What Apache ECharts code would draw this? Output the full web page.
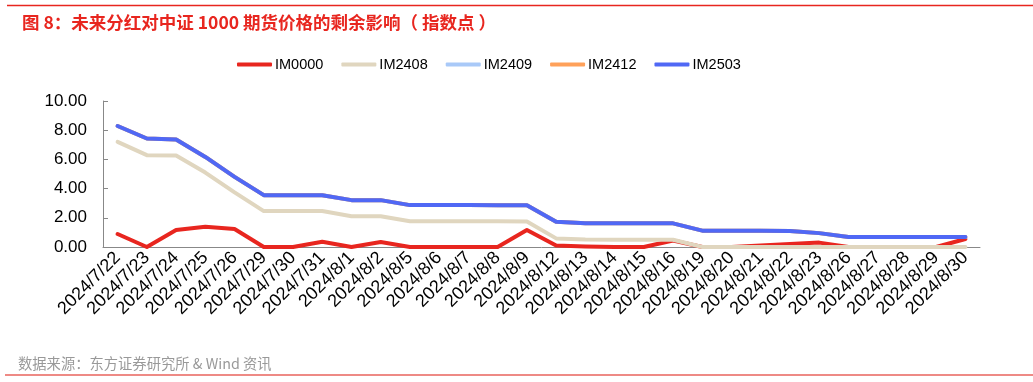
<!DOCTYPE html>
<html><head><meta charset="utf-8">
<script src="https://cdn.jsdelivr.net/npm/echarts@6/dist/echarts.min.js"></script>
<style>html,body{margin:0;padding:0;background:#fff}#c{width:1033px;height:382px}</style>
</head><body><div id="c"></div>
<script>
const categories = ['2024/7/22','2024/7/23','2024/7/24','2024/7/25','2024/7/26','2024/7/29','2024/7/30','2024/7/31','2024/8/1','2024/8/2','2024/8/5','2024/8/6','2024/8/7','2024/8/8','2024/8/9','2024/8/12','2024/8/13','2024/8/14','2024/8/15','2024/8/16','2024/8/19','2024/8/20','2024/8/21','2024/8/22','2024/8/23','2024/8/26','2024/8/27','2024/8/28','2024/8/29','2024/8/30'];
const IM0000 = [0.89,0,1.16,1.39,1.23,0,0,0.36,0,0.34,0,0,0,0,1.16,0.1,0.03,0,0,0.45,0,0,0.1,0.2,0.3,0,0,0,0,0.55];
const IM2408 = [7.2,6.29,6.27,5.1,3.74,2.46,2.46,2.46,2.1,2.1,1.77,1.77,1.77,1.76,1.75,0.59,0.52,0.5,0.5,0.5,0,0,0,0,0,0,0,0,0,0];
const IM2503 = [8.29,7.43,7.36,6.17,4.8,3.55,3.55,3.55,3.21,3.21,2.87,2.87,2.87,2.86,2.86,1.73,1.63,1.63,1.63,1.62,1.12,1.12,1.12,1.1,0.95,0.68,0.68,0.68,0.68,0.68];
const IM2409 = IM2503.slice();
const IM2412 = IM2503.slice();
const seriesNames = ['IM0000','IM2408','IM2409','IM2412','IM2503'];
const seriesData = [IM0000, IM2408, IM2409, IM2412, IM2503];
const colors = ['#e8261f','#e0d6bf','#a9c9f8','#ffa15a','#5068f5'];
const yTicks = {min:0, max:10, interval:2};

const chart = echarts.init(document.getElementById('c'), null, {renderer:'canvas'});
const font = 'Liberation Sans, Arial, sans-serif';
chart.setOption({
  animation:false,
  color: colors,
  title: {
    text:'图 8：未来分红对中证 1000 期货价格的剩余影响（ 指数点 ）',
    left:17, top:9,
    textStyle:{fontFamily:'Noto Sans CJK SC, sans-serif', fontSize:17.5, fontWeight:'bold', color:'#e8261f'}
  },
  legend: {
    data: seriesNames, left:232, top:52,
    icon:'roundRect', itemWidth:35, itemHeight:4, itemGap:18,
    textStyle:{fontFamily:font, fontSize:14.5, color:'#000', padding:[0,0,0,-2]}
  },
  grid: {left:103, right:53, top:101, bottom:135, outerBoundsMode:'none'},
  xAxis: {
    type:'category', data: categories, boundaryGap:true,
    axisLine:{lineStyle:{color:'#888', width:1}},
    axisTick:{inside:true, length:5, lineStyle:{color:'#888'}, alignWithLabel:false},
    axisLabel:{rotate:45, fontFamily:font, fontSize:18, color:'#000', margin:8, interval:0}
  },
  yAxis: {
    type:'value', min:yTicks.min, max:yTicks.max, interval:yTicks.interval,
    axisLine:{show:true, lineStyle:{color:'#888', width:1}},
    axisTick:{show:true, inside:true, length:5, lineStyle:{color:'#888'}},
    splitLine:{show:false},
    axisLabel:{fontFamily:font, fontSize:17, color:'#000', margin:16, formatter:v=>v.toFixed(2)}
  },
  series: seriesNames.map((n,i)=>({
    name:n, type:'line', data: seriesData[i], symbol:'none', z: 2+i,
    lineStyle:{width:4, color:colors[i], cap:'round', join:'round'},
    itemStyle:{color:colors[i]}
  })),
  graphic: [
    {type:'line', shape:{x1:7,y1:5.5,x2:1033,y2:5.5}, style:{stroke:'#e8261f', lineWidth:1.5}},
    {type:'line', shape:{x1:5,y1:375,x2:1033,y2:375}, style:{stroke:'#ee8a85', lineWidth:2}},
    {type:'text', left:18, top:356, style:{text:'数据来源：东方证券研究所 & Wind 资讯', font:'14.3px "Noto Sans CJK SC", sans-serif', fill:'#999'}}
  ]
});
</script></body></html>
